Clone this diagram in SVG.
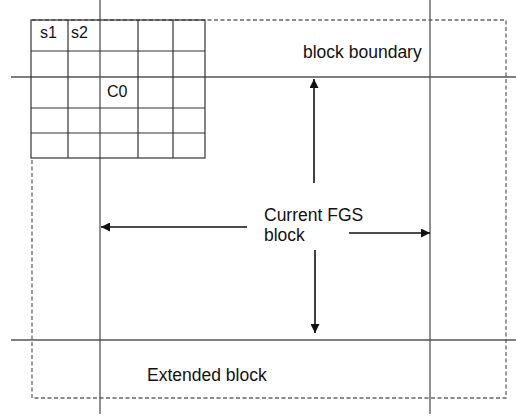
<svg xmlns="http://www.w3.org/2000/svg" width="516" height="416" viewBox="0 0 516 416">
  <style>
    .lbl { font-family: "Liberation Sans", Arial, sans-serif; font-size: 17.5px; fill: #111; }
    .cell { font-family: "Liberation Sans", Arial, sans-serif; font-size: 16px; fill: #111; }
    .grid { stroke: #333; stroke-width: 1.2; fill: none; }
    .axis { stroke: #555; stroke-width: 1.3; fill: none; }
    .dash { stroke: #666; stroke-width: 1.3; fill: none; stroke-dasharray: 4 2.5; }
    .arrow { stroke: #111; stroke-width: 1.6; fill: none; marker-end: url(#head); }
  </style>
  <defs>
    <marker id="head" viewBox="0 0 10 10" refX="10" refY="5" markerWidth="9" markerHeight="9" markerUnits="userSpaceOnUse" orient="auto">
      <path d="M0,0 L10,5 L0,10 z" fill="#111"/>
    </marker>
  </defs>
  <rect width="516" height="416" fill="#fff"/>

  <!-- extended block outline -->
  <g id="extended-block">
    <path class="dash" d="M32,20 H506 V398 H32 V158"/>
    <text class="lbl" x="147" y="381">Extended block</text>
  </g>

  <!-- block boundaries -->
  <g id="block-boundary">
    <line class="axis" x1="100" y1="0" x2="100" y2="414"/>
    <line class="axis" x1="430" y1="0" x2="430" y2="414"/>
    <line class="axis" x1="11" y1="77" x2="516" y2="77"/>
    <line class="axis" x1="11" y1="340" x2="516" y2="340"/>
    <text class="lbl" x="303" y="58">block boundary</text>
  </g>

  <!-- sample grid -->
  <g id="sample-grid">
    <rect class="grid" x="31" y="20" width="174" height="138"/>
    <line class="grid" x1="68" y1="20" x2="68" y2="158"/>
    <line class="grid" x1="138" y1="20" x2="138" y2="158"/>
    <line class="grid" x1="173" y1="20" x2="173" y2="158"/>
    <line class="grid" x1="31" y1="51" x2="205" y2="51"/>
    <line class="grid" x1="31" y1="108" x2="205" y2="108"/>
    <line class="grid" x1="31" y1="133" x2="205" y2="133"/>
    <text class="cell" x="40" y="38">s1</text>
    <text class="cell" x="71" y="38">s2</text>
    <text class="cell" x="107" y="97">C0</text>
  </g>

  <!-- current block label -->
  <g id="current-block">
    <text class="lbl" x="264" y="221">Current FGS</text>
    <text class="lbl" x="264" y="241">block</text>
  </g>

  <!-- arrows -->
  <g id="connectors">
    <line class="arrow" x1="314" y1="183" x2="314" y2="79"/>
    <line class="arrow" x1="315" y1="250" x2="315" y2="333"/>
    <line class="arrow" x1="247" y1="227" x2="101" y2="227"/>
    <line class="arrow" x1="349" y1="233" x2="430" y2="233"/>
  </g>
</svg>
